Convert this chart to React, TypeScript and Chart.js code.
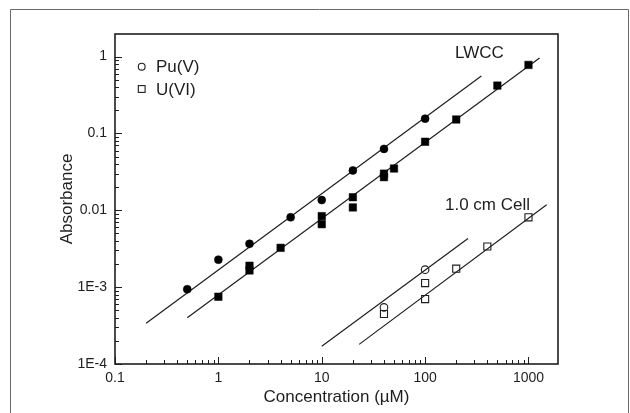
import React, { useEffect, useRef } from "react";
import { Chart, registerables } from "chart.js";

Chart.register(...registerables);

// ---- Data ----
const puLwccX = [0.5, 1, 2, 5, 10, 20, 40, 100];
const puLwccY = [0.00094, 0.00228, 0.00366, 0.0081, 0.0136, 0.033, 0.063, 0.156];

const uLwccX = [1, 2, 2, 4, 10, 10, 20, 20, 40, 40, 50, 100, 200, 500, 1000];
const uLwccY = [0.00075, 0.0019, 0.00165, 0.00325, 0.0084, 0.0066, 0.0148, 0.0109, 0.03, 0.027, 0.035, 0.078, 0.152, 0.42, 0.78];

const puCellX = [40, 100];
const puCellY = [0.000545, 0.00169];

const uCellX = [40, 100, 100, 200, 400, 1000];
const uCellY = [0.000447, 0.00113, 0.0007, 0.00174, 0.00338, 0.0081];

const puLwccFitX = [0.2, 350];
const puLwccFitY = [0.00034, 0.56];
const uLwccFitX = [0.5, 1280];
const uLwccFitY = [0.0004, 0.96];
const puCellFitX = [10, 260];
const puCellFitY = [0.00017, 0.0043];
const uCellFitX = [23, 1500];
const uCellFitY = [0.00018, 0.0118];

const xTickValues = [0.1, 1, 10, 100, 1000];
const xTickLabels = ["0.1", "1", "10", "100", "1000"];
const yTickValues = [0.0001, 0.001, 0.01, 0.1, 1];
const yTickLabels = ["1E-4", "1E-3", "0.01", "0.1", "1"];

const legendLabels = ["Pu(V)", "U(VI)"];
const groupLabels = ["LWCC", "1.0 cm Cell"];
const xTitle = "Concentration (\u00B5M)";
const yTitle = "Absorbance";

const X_MIN = 0.1;
const X_MAX = 1930;
const Y_MIN = 0.0001;
const Y_MAX = 1.97;

const FONT = "'Liberation Sans', Arial, sans-serif";
const INK = "#1e1e1e";

const zip = (xs: number[], ys: number[]) => xs.map((x, i) => ({ x, y: ys[i] }));

const labelFor = (values: number[], labels: string[], v: number) => {
  for (let i = 0; i < values.length; i++) {
    if (Math.abs(Math.log10(v) - Math.log10(values[i])) < 1e-6) return labels[i];
  }
  return "";
};

const decorPlugin = {
  id: "decor",
  afterDraw(chart: any) {
    const ctx = chart.ctx as CanvasRenderingContext2D;
    const { left, right, top, bottom } = chart.chartArea;
    const xs = chart.scales.x;
    const ys = chart.scales.y;
    ctx.save();

    // outer frame of the figure
    ctx.strokeStyle = "#6a6a6a";
    ctx.lineWidth = 1;
    ctx.beginPath();
    ctx.moveTo(10.5, 413);
    ctx.lineTo(10.5, 9.5);
    ctx.lineTo(628.5, 9.5);
    ctx.lineTo(628.5, 413);
    ctx.stroke();

    // inward ticks (major and minor) on bottom and left axes
    ctx.strokeStyle = INK;
    ctx.lineWidth = 1;
    ctx.beginPath();
    for (let d = -1; d <= 3; d++) {
      for (let m = 1; m <= 9; m++) {
        const v = m * Math.pow(10, d);
        if (v < X_MIN * 0.999 || v > X_MAX) continue;
        const px = Math.round(xs.getPixelForValue(v)) + 0.5;
        const len = m === 1 ? 7 : 4;
        ctx.moveTo(px, bottom);
        ctx.lineTo(px, bottom - len);
      }
    }
    for (let d = -4; d <= 0; d++) {
      for (let m = 1; m <= 9; m++) {
        const v = m * Math.pow(10, d);
        if (v < Y_MIN * 0.999 || v > Y_MAX) continue;
        const py = Math.round(ys.getPixelForValue(v)) + 0.5;
        const len = m === 1 ? 7 : 4;
        ctx.moveTo(left, py);
        ctx.lineTo(left + len, py);
      }
    }
    ctx.stroke();

    // plot box
    ctx.lineWidth = 1.6;
    ctx.strokeRect(left, top, right - left, bottom - top);

    // texts
    ctx.fillStyle = INK;
    ctx.font = `17px ${FONT}`;
    ctx.textBaseline = "middle";
    ctx.textAlign = "left";
    ctx.fillText(groupLabels[0], 455, 53);
    ctx.fillText(groupLabels[1], 445, 205);

    // legend
    ctx.fillText(legendLabels[0], 156, 67.5);
    ctx.fillText(legendLabels[1], 156, 90);
    ctx.lineWidth = 1.1;
    ctx.beginPath();
    ctx.arc(141.7, 66.7, 3.4, 0, Math.PI * 2);
    ctx.stroke();
    ctx.strokeRect(138.3, 85.6, 6.8, 6.8);

    // axis titles
    ctx.textAlign = "center";
    ctx.fillText(xTitle, (left + right) / 2, 397);
    ctx.save();
    ctx.translate(67, (top + bottom) / 2);
    ctx.rotate(-Math.PI / 2);
    ctx.fillText(yTitle, 0, 0);
    ctx.restore();

    ctx.restore();
  },
};

export default function App() {
  const canvasRef = useRef<HTMLCanvasElement | null>(null);

  useEffect(() => {
    if (!canvasRef.current) return;
    document.body.style.margin = "0";
    const lineDs = (xs: number[], ys: number[]) => ({
      data: zip(xs, ys),
      showLine: true,
      borderColor: INK,
      borderWidth: 1.2,
      pointRadius: 0,
      fill: false,
      order: 2,
    });
    const chart = new Chart(canvasRef.current, {
      type: "scatter",
      data: {
        datasets: [
          lineDs(puLwccFitX, puLwccFitY),
          lineDs(uLwccFitX, uLwccFitY),
          lineDs(puCellFitX, puCellFitY),
          lineDs(uCellFitX, uCellFitY),
          {
            label: "Pu(V) LWCC",
            data: zip(puLwccX, puLwccY),
            pointStyle: "circle",
            pointRadius: 4,
            backgroundColor: "#000",
            borderColor: "#000",
            borderWidth: 0.5,
            order: 1,
          },
          {
            label: "U(VI) LWCC",
            data: zip(uLwccX, uLwccY),
            pointStyle: "rect",
            pointRadius: 5.3,
            backgroundColor: "#000",
            borderColor: "#000",
            borderWidth: 0.5,
            order: 1,
          },
          {
            label: "Pu(V) cell",
            data: zip(puCellX, puCellY),
            pointStyle: "circle",
            pointRadius: 3.8,
            backgroundColor: "rgba(0,0,0,0)",
            borderColor: INK,
            borderWidth: 1.1,
            order: 1,
          },
          {
            label: "U(VI) cell",
            data: zip(uCellX, uCellY),
            pointStyle: "rect",
            pointRadius: 5,
            backgroundColor: "rgba(0,0,0,0)",
            borderColor: INK,
            borderWidth: 1.1,
            order: 1,
          },
        ],
      },
      options: {
        animation: false,
        responsive: false,
        devicePixelRatio: 1,
        layout: { padding: { left: 0, top: 34, right: 72, bottom: 0 } },
        plugins: { legend: { display: false }, tooltip: { enabled: false } },
        scales: {
          x: {
            type: "logarithmic",
            min: X_MIN,
            max: X_MAX,
            grid: { display: false, drawTicks: false },
            border: { display: false },
            afterBuildTicks: (scale: any) => {
              scale.ticks = xTickValues.map((v) => ({ value: v }));
            },
            afterFit: (scale: any) => {
              scale.height = 49;
            },
            ticks: {
              autoSkip: false,
              maxRotation: 0,
              padding: 6,
              color: INK,
              font: { family: FONT, size: 14 },
              callback: (v: any) => labelFor(xTickValues, xTickLabels, Number(v)),
            },
          },
          y: {
            type: "logarithmic",
            min: Y_MIN,
            max: Y_MAX,
            grid: { display: false, drawTicks: false },
            border: { display: false },
            afterBuildTicks: (scale: any) => {
              scale.ticks = yTickValues.map((v) => ({ value: v }));
            },
            afterFit: (scale: any) => {
              scale.width = 115;
            },
            ticks: {
              autoSkip: false,
              padding: 8,
              color: INK,
              font: { family: FONT, size: 14 },
              callback: (v: any) => labelFor(yTickValues, yTickLabels, Number(v)),
            },
          },
        },
      },
      plugins: [decorPlugin],
    } as any);
    return () => chart.destroy();
  }, []);

  return (
    <div style={{ position: "fixed", left: 0, top: 0, width: 630, height: 413, background: "#fff" }}>
      <canvas ref={canvasRef} width={630} height={413} style={{ width: 630, height: 413, display: "block" }} />
    </div>
  );
}
